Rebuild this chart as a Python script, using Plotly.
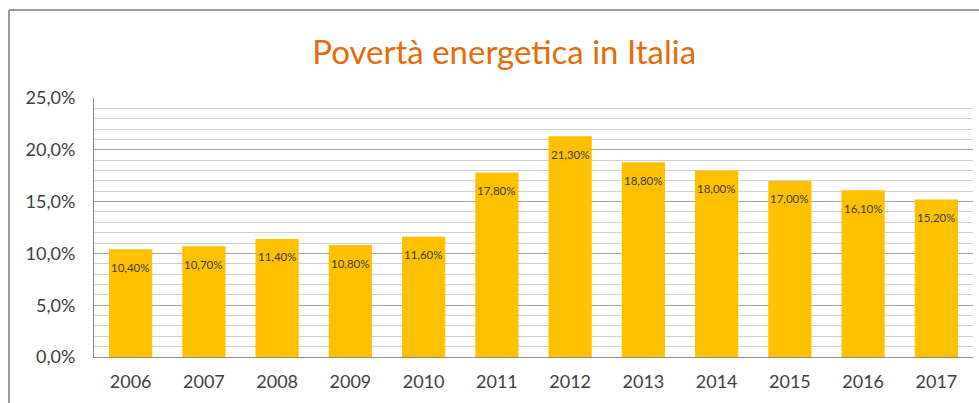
import plotly.graph_objects as go

years = ["2006", "2007", "2008", "2009", "2010", "2011", "2012", "2013", "2014", "2015", "2016", "2017"]
values = [10.4, 10.7, 11.4, 10.8, 11.6, 17.8, 21.3, 18.8, 18.0, 17.0, 16.1, 15.2]
labels = [f"{v:.2f}%".replace(".", ",") for v in values]
ytick_vals = [0, 5, 10, 15, 20, 25]
ytick_text = [f"{v:.1f}%".replace(".", ",") for v in ytick_vals]

FONT = "Lato, Carlito, Calibri, 'Noto Sans', sans-serif"

fig = go.Figure(go.Bar(
    x=years, y=values,
    marker=dict(color="#FFC000", line=dict(width=0)),
    width=0.59,
))

# category index positions of each year on the category axis
for i, (v, lab) in enumerate(zip(values, labels)):
    fig.add_annotation(x=i, y=v, text=lab, showarrow=False,
                       yanchor="middle", yshift=-18,
                       font=dict(family=FONT, size=11.5, color="#404040"))

fig.update_layout(
    width=979, height=403,
    margin=dict(l=94, r=6, t=98, b=46),
    paper_bgcolor="white", plot_bgcolor="white",
    showlegend=False,
    title=dict(text="Povertà energetica in Italia", x=0.515, xanchor="center",
               y=1 - 52/403, yanchor="middle",
               font=dict(family=FONT, size=33, color="#E46C0A")),
    xaxis=dict(type="category", range=[-0.5, len(years) - 0.5],
               showline=True, linecolor="#8C8C8C", linewidth=1, ticks="",
               tickfont=dict(family=FONT, size=18, color="#404040"),
               ticklabelstandoff=8),
    yaxis=dict(range=[0, 25], tickvals=ytick_vals, ticktext=ytick_text,
               showline=True, linecolor="#8C8C8C", linewidth=1,
               showgrid=True, gridcolor="#A6A6A6", gridwidth=1,
               minor=dict(dtick=1, showgrid=True, gridcolor="#D0D0D0", gridwidth=1),
               zeroline=False,
               tickfont=dict(family=FONT, size=18, color="#404040"),
               ticklabelstandoff=14),
    shapes=[
        dict(type="line", xref="paper", yref="paper",
             x0=(9-94)/879, x1=(9-94)/879, y0=1 + (98-10)/259, y1=-0.3,
             line=dict(color="#9A9A9A", width=2)),
        dict(type="line", xref="paper", yref="paper",
             x0=(9-94)/879, x1=1.01, y0=1 + (98-10)/259, y1=1 + (98-10)/259,
             line=dict(color="#9A9A9A", width=2)),
    ],
)

fig.write_html("out.html")
